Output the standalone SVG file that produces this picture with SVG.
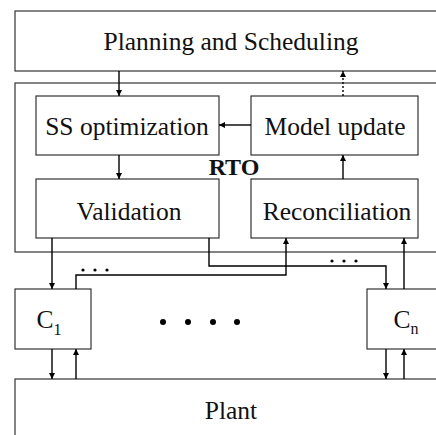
<svg xmlns="http://www.w3.org/2000/svg" width="436" height="435" viewBox="0 0 436 435">
<style>
.box{fill:#fff;stroke:#333;stroke-width:1.2}
.t{font-family:"Liberation Serif","Times New Roman",serif;font-size:25.5px;fill:#111;text-anchor:middle}
.sub{font-family:"Liberation Serif","Times New Roman",serif;font-size:16px;fill:#111}
.rto{font-family:"Liberation Serif","Times New Roman",serif;font-size:24px;font-weight:bold;fill:#111;text-anchor:middle}
.c{fill:none;stroke:#000;stroke-width:1.4}
.dot{fill:#000}
</style>
<defs>
<marker id="ah" viewBox="0 0 10 10" refX="10" refY="5" markerWidth="6" markerHeight="6" markerUnits="userSpaceOnUse" orient="auto">
<path d="M0,0 L10,5 L0,10 z" fill="#000"/>
</marker>
</defs>
<rect width="436" height="435" fill="#fff"/>
<g id="planning"><rect class="box" x="15" y="11" width="430" height="60"/><text class="t" x="231" y="50">Planning and Scheduling</text></g>
<g id="rto"><rect class="box" x="15" y="83" width="430" height="169"/><text class="rto" x="234" y="175">RTO</text></g>
<g id="ssopt"><rect class="box" x="36" y="96" width="183" height="59"/><text class="t" x="127" y="135">SS optimization</text></g>
<g id="model"><rect class="box" x="251" y="96" width="167" height="59"/><text class="t" x="335" y="135">Model update</text></g>
<g id="validation"><rect class="box" x="36" y="179" width="183" height="59"/><text class="t" x="129" y="220">Validation</text></g>
<g id="reconciliation"><rect class="box" x="251" y="179" width="167" height="59"/><text class="t" x="337" y="220">Reconciliation</text></g>
<g id="c1"><rect class="box" x="15" y="289" width="76" height="60"/><text class="t" x="49" y="328">C<tspan class="sub" dy="7">1</tspan></text></g>
<g id="cn"><rect class="box" x="367" y="289" width="80" height="60"/><text class="t" x="406" y="328">C<tspan class="sub" dy="6">n</tspan></text></g>
<g id="plant"><rect class="box" x="15" y="379" width="430" height="70"/><text class="t" x="231" y="419">Plant</text></g>
<g id="connectors">
<line class="c" x1="119" y1="71" x2="119" y2="96" marker-end="url(#ah)"/>
<line class="c" x1="343" y1="96" x2="343" y2="71" stroke-dasharray="2,2" marker-end="url(#ah)"/>
<line class="c" x1="251" y1="125" x2="219" y2="125" marker-end="url(#ah)"/>
<line class="c" x1="119" y1="155" x2="119" y2="179" marker-end="url(#ah)"/>
<line class="c" x1="343" y1="179" x2="343" y2="155" marker-end="url(#ah)"/>
<line class="c" x1="52" y1="238" x2="52" y2="289" marker-end="url(#ah)"/>
<polyline class="c" points="76,289 76,275 286,275 286,238" marker-end="url(#ah)"/>
<polyline class="c" points="209,238 209,266 386,266 386,289" marker-end="url(#ah)"/>
<line class="c" x1="404" y1="289" x2="404" y2="238" marker-end="url(#ah)"/>
<line class="c" x1="52" y1="349" x2="52" y2="379" marker-end="url(#ah)"/>
<line class="c" x1="76" y1="379" x2="76" y2="349" marker-end="url(#ah)"/>
<line class="c" x1="386" y1="349" x2="386" y2="379" marker-end="url(#ah)"/>
<line class="c" x1="404" y1="379" x2="404" y2="349" marker-end="url(#ah)"/>
</g>
<g id="dots">
<circle class="dot" cx="83" cy="270" r="1.6"/><circle class="dot" cx="95" cy="270" r="1.6"/><circle class="dot" cx="107" cy="270" r="1.6"/>
<circle class="dot" cx="332" cy="261" r="1.6"/><circle class="dot" cx="344" cy="261" r="1.6"/><circle class="dot" cx="356" cy="261" r="1.6"/>
<circle class="dot" cx="163" cy="322" r="3"/><circle class="dot" cx="188" cy="322" r="3"/><circle class="dot" cx="213" cy="322" r="3"/><circle class="dot" cx="237" cy="322" r="3"/>
</g>
</svg>
